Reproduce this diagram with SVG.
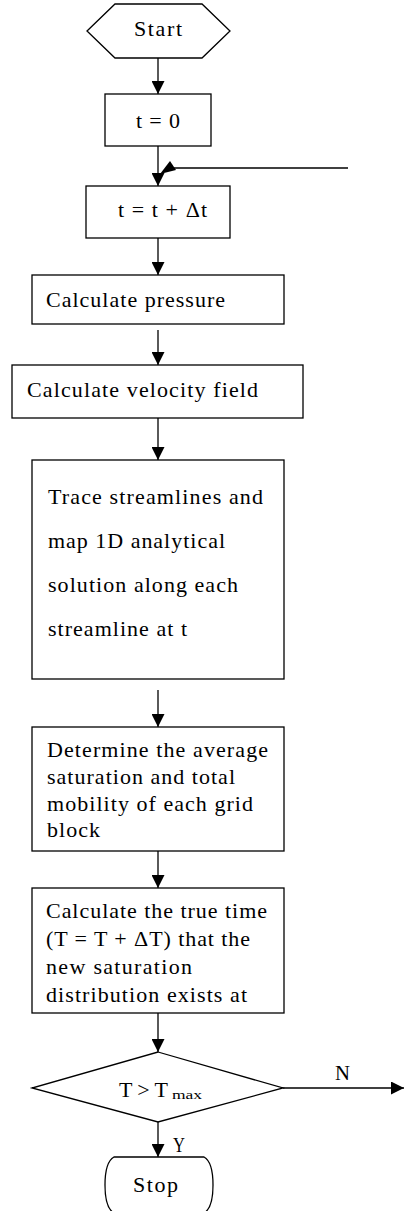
<svg xmlns="http://www.w3.org/2000/svg" width="404" height="1211" viewBox="0 0 404 1211">
<style>
.s{fill:#fff;stroke:#000;stroke-width:1.3}
.c{fill:none;stroke:#000;stroke-width:1.3}
text{font-family:"Liberation Serif","Times New Roman",serif;font-size:22px;fill:#000}
</style>
<defs>
<marker id="ah" markerUnits="userSpaceOnUse" viewBox="0 0 12 14" refX="14" refY="7" markerWidth="14" markerHeight="13" orient="auto">
<path d="M0,0 L14,7 L0,14 z" fill="#000"/>
</marker>
</defs>
<rect width="404" height="1211" fill="#fff"/>
<g id="connectors">
<line class="c" x1="158" y1="58" x2="158" y2="94" marker-end="url(#ah)"/>
<line class="c" x1="158" y1="146" x2="158" y2="186" marker-end="url(#ah)"/>
<line class="c" x1="348" y1="168" x2="172" y2="168"/>
<polygon points="160,174 170,161 176,170" fill="#000"/>
<line class="c" x1="158" y1="238" x2="158" y2="275" marker-end="url(#ah)"/>
<line class="c" x1="158" y1="330" x2="158" y2="365" marker-end="url(#ah)"/>
<line class="c" x1="158" y1="418" x2="158" y2="460" marker-end="url(#ah)"/>
<line class="c" x1="158" y1="690" x2="158" y2="727" marker-end="url(#ah)"/>
<line class="c" x1="158" y1="851" x2="158" y2="888" marker-end="url(#ah)"/>
<line class="c" x1="158" y1="1013" x2="158" y2="1052" marker-end="url(#ah)"/>
<line class="c" x1="283" y1="1088" x2="404" y2="1088" marker-end="url(#ah)"/>
<line class="c" x1="158" y1="1122" x2="158" y2="1157" marker-end="url(#ah)"/>
<text x="335" y="1080" textLength="15" lengthAdjust="spacingAndGlyphs">N</text>
<text x="173" y="1152" textLength="12" lengthAdjust="spacingAndGlyphs">Y</text>
</g>
<g id="start">
<polygon class="s" points="87,31 115,4 202,4 230,31 202,58 115,58"/>
<text x="134" y="36" textLength="48" lengthAdjust="spacing">Start</text>
</g>
<g id="t0">
<rect class="s" x="105" y="94" width="106" height="52"/>
<text x="136" y="128" textLength="44" lengthAdjust="spacing">t = 0</text>
</g>
<g id="tinc">
<rect class="s" x="86" y="186" width="144" height="52"/>
<text x="118" y="217" textLength="89" lengthAdjust="spacing">t = t + Δt</text>
</g>
<g id="pressure">
<rect class="s" x="32" y="275" width="252" height="49"/>
<text x="46" y="307" textLength="179" lengthAdjust="spacing">Calculate pressure</text>
</g>
<g id="velocity">
<rect class="s" x="12" y="365" width="291" height="53"/>
<text x="27" y="397" textLength="231" lengthAdjust="spacing">Calculate velocity field</text>
</g>
<g id="trace">
<rect class="s" x="32" y="460" width="252" height="219"/>
<text x="48" y="504" textLength="215" lengthAdjust="spacing">Trace streamlines and</text>
<text x="48" y="548" textLength="177" lengthAdjust="spacing">map 1D analytical</text>
<text x="48" y="592" textLength="190" lengthAdjust="spacing">solution along each</text>
<text x="48" y="636" textLength="139" lengthAdjust="spacing">streamline at t</text>
</g>
<g id="determine">
<rect class="s" x="32" y="727" width="252" height="124"/>
<text x="47" y="757" textLength="221" lengthAdjust="spacing">Determine the average</text>
<text x="47" y="784" textLength="188" lengthAdjust="spacing">saturation and total</text>
<text x="47" y="811" textLength="206" lengthAdjust="spacing">mobility of each grid</text>
<text x="47" y="837" textLength="53" lengthAdjust="spacing">block</text>
</g>
<g id="truetime">
<rect class="s" x="32" y="888" width="252" height="125"/>
<text x="46" y="918" textLength="221" lengthAdjust="spacing">Calculate the true time</text>
<text x="46" y="946" textLength="204" lengthAdjust="spacing">(T = T + ΔT) that the</text>
<text x="46" y="974" textLength="146" lengthAdjust="spacing">new saturation</text>
<text x="46" y="1002" textLength="201" lengthAdjust="spacing">distribution exists at</text>
</g>
<g id="decision">
<polygon class="s" points="158,1052 283,1088 158,1122 32,1088"/>
<text x="119" y="1097" textLength="49" lengthAdjust="spacing">T &gt; T</text>
<text x="172" y="1099" style="font-size:13px" textLength="30" lengthAdjust="spacingAndGlyphs">max</text>
</g>
<g id="stop">
<path class="s" d="M114,1157 L204,1157 Q213,1162 213,1185 Q213,1208 204,1213 L114,1213 Q105,1208 105,1185 Q105,1162 114,1157 Z"/>
<text x="133" y="1192" textLength="45" lengthAdjust="spacing">Stop</text>
</g>
</svg>
